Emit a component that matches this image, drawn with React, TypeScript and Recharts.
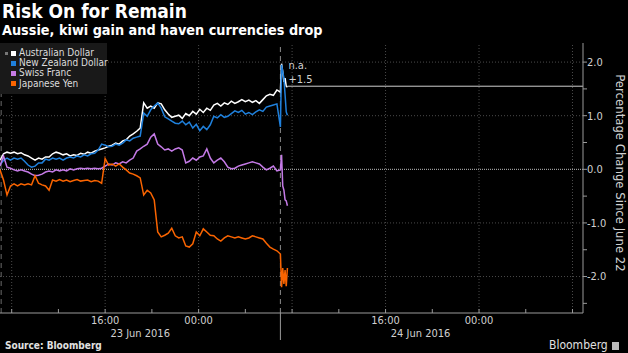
import React from 'react';
import { LineChart, Line, XAxis, YAxis, ReferenceLine, ReferenceDot } from 'recharts';

// hours relative to the day break (24 Jun 2016, 07:00 chart time = 0)
const hours = [-24,-23.7,-23.4,-23.1,-22.8,-22.5,-22.2,-21.9,-21.6,-21.3,-21,-20.7,-20.4,-20.1,-19.8,-19.5,-19.2,-18.9,-18.6,-18.3,-18,-17.7,-17.4,-17.1,-16.8,-16.5,-16.2,-15.9,-15.6,-15.3,-15,-14.7,-14.4,-14.1,-13.8,-13.5,-13.2,-12.9,-12.6,-12.3,-12,-11.7,-11.4,-11.1,-10.8,-10.5,-10.2,-9.9,-9.6,-9.3,-9,-8.7,-8.4,-8.1,-7.8,-7.5,-7.2,-6.9,-6.6,-6.3,-6,-5.7,-5.4,-5.1,-4.8,-4.5,-4.2,-3.9,-3.6,-3.3,-3,-2.7,-2.4,-2.1,-1.8,-1.5,-1.2,-0.9,-0.6,-0.3,0,0.1,0.2,0.3,0.4,0.5,0.6];

const aud = [
0.17,0.29,0.32,0.30,0.32,0.29,0.31,0.27,0.25,0.21,
0.17,0.21,0.19,0.23,0.23,0.29,0.32,0.30,0.27,0.29,
0.25,0.27,0.26,0.30,0.28,0.32,0.30,0.34,0.36,0.38,
0.40,0.43,0.45,0.49,0.47,0.53,0.55,0.62,0.66,0.71,
0.77,1.24,1.14,1.18,1.14,1.24,1.22,1.11,1.03,0.97,
0.99,1.01,0.95,1.04,1.00,1.08,1.03,1.12,1.06,1.14,
1.10,1.20,1.23,1.18,1.24,1.21,1.27,1.23,1.26,1.30,
1.26,1.29,1.25,1.28,1.23,1.30,1.37,1.40,1.38,1.48,
1.44,1.97,1.82,1.63,1.70,1.55,1.53];

const nzd = [
0.08,0.17,0.21,0.17,0.21,0.19,0.21,0.15,0.08,0.04,
0.06,0.12,0.12,0.19,0.17,0.21,0.19,0.21,0.17,0.21,
0.23,0.21,0.25,0.23,0.27,0.25,0.29,0.30,0.36,0.47,
0.45,0.42,0.43,0.47,0.45,0.49,0.55,0.53,0.58,0.60,
0.62,1.05,0.99,1.11,1.18,1.24,1.14,0.98,0.94,0.90,
0.86,0.85,0.90,0.83,0.88,0.77,0.84,0.72,0.80,0.74,
0.83,0.99,0.96,1.02,0.97,0.99,1.04,1.09,1.06,1.10,
1.03,1.06,1.02,1.07,1.11,1.08,1.16,1.18,1.20,1.22,
0.79,1.95,1.82,1.70,1.39,1.07,1.01];

const chf = [
0.06,0.25,0.04,0.02,-0.01,-0.03,-0.01,-0.03,-0.05,-0.09,
-0.12,-0.11,-0.09,-0.05,-0.03,-0.05,-0.01,-0.03,-0.01,-0.03,
0.01,-0.01,0.01,0.02,0.01,0.02,0.01,0.02,0.01,0.02,
0.06,0.10,0.08,0.12,0.10,0.14,0.12,0.17,0.21,0.34,
0.38,0.43,0.47,0.60,0.66,0.47,0.42,0.36,0.38,0.34,
0.38,0.40,0.36,0.12,0.15,0.21,0.17,0.23,0.25,0.38,
0.21,0.12,0.17,0.21,0.14,0.04,0.01,0.02,0.06,0.08,
0.10,0.12,0.14,0.12,0.10,0.04,-0.01,0.02,0.06,-0.03,
-0.01,0.27,-0.31,-0.39,-0.57,-0.59,-0.68];

const jpy = [
-0.01,-0.20,-0.48,-0.31,-0.27,-0.31,-0.27,-0.29,-0.27,-0.29,
-0.12,-0.26,-0.29,-0.31,-0.39,-0.20,-0.22,-0.19,-0.22,-0.20,
-0.23,-0.21,-0.19,-0.22,-0.21,-0.20,-0.23,-0.21,-0.22,-0.26,
0.20,0.08,0.10,0.06,0.10,0.04,-0.01,-0.07,-0.09,-0.12,
-0.16,-0.48,-0.39,-0.44,-0.57,-1.17,-1.26,-1.23,-1.19,-1.10,
-1.24,-1.28,-1.26,-1.43,-1.45,-1.39,-1.17,-1.24,-1.11,-1.17,
-1.23,-1.24,-1.30,-1.34,-1.28,-1.24,-1.26,-1.28,-1.26,-1.28,
-1.30,-1.28,-1.24,-1.26,-1.28,-1.30,-1.38,-1.45,-1.49,-1.52,
-1.58,-2.20,-1.84,-2.14,-1.88,-2.18,-1.84];

const seriesKeys = ['aud', 'nzd', 'chf', 'jpy'];
const seriesNames = ['Australian Dollar', 'New Zealand Dollar', 'Swiss Franc', 'Japanese Yen'];
const seriesColors = ['#ffffff', '#1f80dc', '#c47ae6', '#fa6400'];

const xTickHours = [-23, -19, -15, -11, -7, -3, 1, 5, 9, 13, 17, 21, 25];
const xLabelHours = [-15, -7, 9, 17];
const xLabels = ['16:00', '00:00', '16:00', '00:00'];
const dayCenters = [-12, 12];
const dayLabels = ['23 Jun 2016', '24 Jun 2016'];
const dayBreak = 0;
const xGridHours = [-23, -15, -7, 1, 9, 17, 25];

const yTicks = [2, 1.5, 1, 0.5, 0, -0.5, -1, -1.5, -2, -2.5];
const yLabelValues = [2, 1, 0, -1, -2];
const yLabels = ['2.0', '1.0', '0.0', '-1.0', '-2.0'];
const yGrid = [2, 1, -1, -2];

const lastValue = 1.55;
const lastLabel = '+1.5';
const naLabel = 'n.a.';
const lastStart = 0.6;

const xDomain = [-24, 25.9];
const yDomain = [-2.68, 2.356];

const data = hours.map((h, i) => ({ h, aud: aud[i], nzd: nzd[i], chf: chf[i], jpy: jpy[i] }));
const allXTicks = Array.from(new Set([...xTickHours, ...dayCenters, dayBreak])).sort((a, b) => a - b);

const COND = "'DejaVu Sans Condensed', 'DejaVu Sans', sans-serif";
const axisColor = '#9a9a9a';
const textColor = '#d0d0d0';

const XTick = (props: any) => {
  const { x, y, payload } = props;
  const v = payload.value;
  const items: any[] = [];
  if (xTickHours.includes(v)) items.push(<line key="t" x1={x} x2={x} y1={y} y2={y - 4} stroke={axisColor} />);
  const li = xLabelHours.indexOf(v);
  if (li >= 0) items.push(<text key="l" x={x} y={y + 11} textAnchor="middle" fill={textColor} fontSize={11} fontFamily={COND} style={{ fontStretch: 'condensed' }}>{xLabels[li]}</text>);
  const di = dayCenters.indexOf(v);
  if (di >= 0) items.push(<text key="d" x={x} y={y + 24} textAnchor="middle" fill={textColor} fontSize={11} fontFamily={COND} style={{ fontStretch: 'condensed' }}>{dayLabels[di]}</text>);
  if (v === dayBreak) items.push(<line key="b" x1={x} x2={x} y1={y} y2={y + 27} stroke={axisColor} />);
  return <g>{items}</g>;
};

const YTick = (props: any) => {
  const { x, y, payload } = props;
  const v = payload.value;
  const li = yLabelValues.indexOf(v);
  return (
    <g>
      <line x1={x} x2={x + 4} y1={y} y2={y} stroke={axisColor} />
      {li >= 0 && (
        <text x={x + 4} y={y} dy="0.35em" textAnchor="start" fill={textColor} fontSize={11} fontFamily={COND} style={{ fontStretch: 'condensed' }}>{yLabels[li]}</text>
      )}
    </g>
  );
};

const YLabel = (props: any) => {
  const vb = props.viewBox || {};
  const cx = vb.x + 37;
  const cy = vb.y + vb.height / 2 - 5;
  return (
    <text x={cx} y={cy} transform={`rotate(90 ${cx} ${cy})`} textAnchor="middle" dominantBaseline="central" fill={textColor} fontSize={13} fontFamily={COND} style={{ fontStretch: 'condensed' }}>
      Percentage Change Since June 22
    </text>
  );
};

const LastLabel = (props: any) => {
  const vb = props.viewBox || {};
  const x = vb.x + (vb.width || 0) / 2 + 1;
  const y = vb.y + (vb.height || 0) / 2;
  return (
    <g>
      <text x={x} y={y - 17} fill={textColor} fontSize={11} fontFamily={COND} style={{ fontStretch: 'condensed' }}>{naLabel}</text>
      <text x={x} y={y - 3} fill={textColor} fontSize={11} fontFamily={COND} style={{ fontStretch: 'condensed' }}>{lastLabel}</text>
    </g>
  );
};

export default function App() {
  return (
    <div style={{ position: 'absolute', left: 0, top: 0, width: 628, height: 353, background: '#000', overflow: 'hidden' }}>
      <LineChart width={628} height={353} data={data} margin={{ top: 43, right: 0, bottom: 0, left: 0 }}>
        {yGrid.map((v) => (
          <ReferenceLine key={'gy' + v} y={v} stroke="#4a4a4a" strokeDasharray="1 2" />
        ))}
        {xGridHours.map((v) => (
          <ReferenceLine key={'gx' + v} x={v} stroke="#4a4a4a" strokeDasharray="1 2" />
        ))}
        <ReferenceLine y={0} stroke="#bdbdbd" strokeDasharray="1 1" />
        <ReferenceLine x={dayBreak} stroke="#8a8a8a" strokeDasharray="5 4" />
        <ReferenceLine x={-23.9} stroke="#6a6a6a" strokeDasharray="5 4" />
        <ReferenceLine segment={[{ x: lastStart, y: lastValue }, { x: xDomain[1], y: lastValue }]} stroke="#cfcfcf" />
        <XAxis
          dataKey="h"
          type="number"
          domain={xDomain}
          allowDataOverflow
          ticks={allXTicks}
          interval={0}
          height={40}
          tickSize={0}
          tickMargin={0}
          tickLine={false}
          axisLine={{ stroke: axisColor }}
          tick={<XTick />}
        />
        <YAxis
          orientation="right"
          type="number"
          domain={yDomain}
          allowDataOverflow
          ticks={yTicks}
          interval={0}
          width={45}
          tickSize={0}
          tickMargin={0}
          tickLine={false}
          axisLine={{ stroke: axisColor }}
          tick={<YTick />}
          label={<YLabel />}
        />
        {seriesKeys.map((k, i) => (
          <Line key={k} dataKey={k} type="linear" stroke={seriesColors[i]} strokeWidth={1.5} dot={false} isAnimationActive={false} />
        ))}
        <ReferenceDot x={lastStart} y={lastValue} r={0} fill="none" stroke="none" label={<LastLabel />} />
      </LineChart>

      <div style={{ position: 'absolute', left: 2, top: 0, color: '#fff', fontFamily: COND, fontStretch: 'condensed', fontWeight: 'bold', fontSize: 19, lineHeight: '23px', whiteSpace: 'nowrap' }}>
        Risk On for Remain
      </div>
      <div style={{ position: 'absolute', left: 2, top: 21, color: '#fff', fontFamily: COND, fontStretch: 'condensed', fontWeight: 'bold', fontSize: 14.3, lineHeight: '18px', whiteSpace: 'nowrap' }}>
        Aussie, kiwi gain and haven currencies drop
      </div>

      <div style={{ position: 'absolute', left: 0, top: 43, width: 107, height: 51, background: '#191919' }}>
        <div style={{ position: 'absolute', left: 5, top: 9, width: 3, height: 3, background: '#777' }} />
        {seriesNames.map((n, i) => (
          <div key={n} style={{ position: 'absolute', left: 11, top: 5 + i * 10.2, height: 10, display: 'flex', alignItems: 'center', whiteSpace: 'nowrap' }}>
            <div style={{ width: 5, height: 5, background: seriesColors[i], marginRight: 3 }} />
            <span style={{ color: '#dcdcdc', fontFamily: COND, fontStretch: 'condensed', fontSize: 10, lineHeight: '10px' }}>{n}</span>
          </div>
        ))}
      </div>

      <div style={{ position: 'absolute', left: 5, top: 339, color: '#e0e0e0', fontFamily: COND, fontStretch: 'condensed', fontWeight: 'bold', fontSize: 10, lineHeight: '13px', whiteSpace: 'nowrap' }}>
        Source: Bloomberg
      </div>
      <div style={{ position: 'absolute', left: 549, top: 338, color: '#e0e0e0', fontFamily: COND, fontStretch: 'condensed', fontSize: 12, lineHeight: '15px', whiteSpace: 'nowrap', display: 'flex', alignItems: 'center' }}>
        Bloomberg
        <span style={{ display: 'inline-block', width: 7, height: 8, background: '#bbb', marginLeft: 4 }} />
      </div>
    </div>
  );
}
